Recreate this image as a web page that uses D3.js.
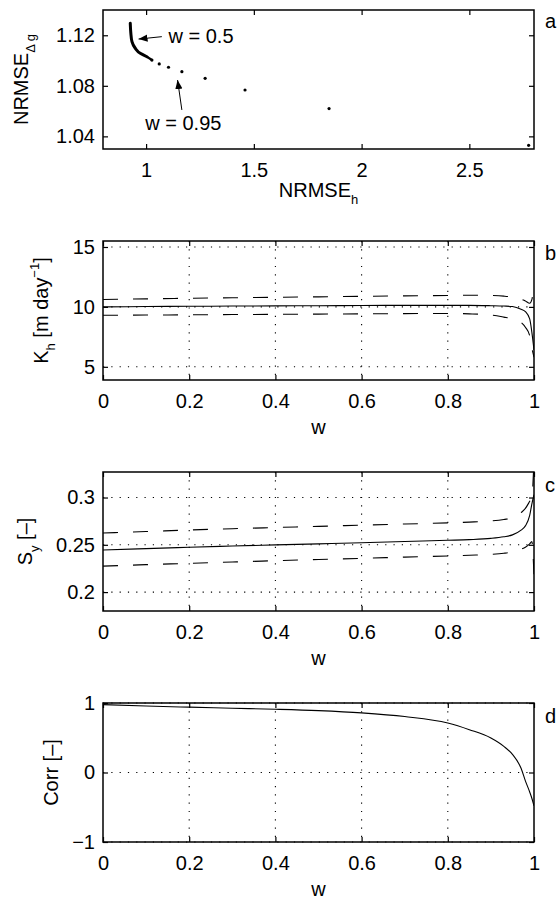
<!DOCTYPE html>
<html>
<head>
<meta charset="utf-8">
<script src="https://cdn.jsdelivr.net/npm/d3@7"></script>
<style>
  body { margin: 0; background: #fff; }
  svg text { font-family: "Liberation Sans", Arial, Helvetica, sans-serif; fill: #000; }
</style>
</head>
<body>
<div id="canvas"></div>
<script>
// ---- panel a : NRMSE_h vs NRMSE_dg
const frontX = [0.9265, 0.9290, 0.9344, 0.9497, 0.9728, 1.0039];
const frontY = [1.1295, 1.1220, 1.1149, 1.1097, 1.1057, 1.1030];
const dotsX = [1.027, 1.061, 1.104, 1.166, 1.274, 1.459, 1.849, 2.775];
const dotsY = [1.1004, 1.0973, 1.0947, 1.0912, 1.0859, 1.0767, 1.0620, 1.0329];
const aXTicks = [1, 1.5, 2, 2.5];
const aYTicks = [1.04, 1.08, 1.12];
const noteLabels = ["w = 0.5", "w = 0.95"];
const noteTip = [[0.965, 1.117], [1.146, 1.0846]];
const noteTail = [[1.073, 1.1189], [1.166, 1.0609]];
const noteText = [[1.104, 1.1136], [0.996, 1.045]];

// ---- panels b, c, d : against weight w
const w      = [0, 0.1, 0.2, 0.3, 0.4, 0.5, 0.6, 0.7, 0.8, 0.85, 0.9, 0.93, 0.95, 0.97, 0.98, 0.99, 0.995, 1.0];
const khMid  = [10.0, 10.03, 10.05, 10.07, 10.09, 10.1, 10.12, 10.13, 10.13, 10.13, 10.1, 10.07, 10.03, 9.8, 9.6, 9.0, 7.9, 6.4];
const khUp   = [10.62, 10.67, 10.72, 10.76, 10.8, 10.84, 10.88, 10.92, 10.95, 10.97, 10.95, 10.9, 10.82, 10.65, 10.5, 10.3, 10.6, 12.0];
const khLow  = [9.3, 9.32, 9.34, 9.36, 9.38, 9.4, 9.42, 9.44, 9.45, 9.42, 9.33, 9.15, 9.0, 8.7, 8.3, 7.6, 6.6, 5.8];
const syMid  = [0.2445, 0.246, 0.2474, 0.2487, 0.2499, 0.251, 0.2522, 0.2535, 0.2548, 0.2555, 0.2568, 0.2585, 0.2605, 0.2655, 0.27, 0.281, 0.293, 0.303];
const syUp   = [0.2625, 0.264, 0.2657, 0.267, 0.2683, 0.2695, 0.2708, 0.272, 0.2732, 0.274, 0.2752, 0.2768, 0.2785, 0.284, 0.2885, 0.296, 0.300, 0.34];
const syLow  = [0.2275, 0.229, 0.2304, 0.2318, 0.2332, 0.2345, 0.2357, 0.237, 0.2382, 0.239, 0.2398, 0.241, 0.2425, 0.2455, 0.2475, 0.251, 0.2535, 0.218];
const corr   = [0.976, 0.957, 0.94, 0.925, 0.91, 0.89, 0.858, 0.805, 0.712, 0.616, 0.496, 0.376, 0.26, 0.06, -0.12, -0.28, -0.37, -0.48];
const wTicks = [0, 0.2, 0.4, 0.6, 0.8, 1];
const khTicks = [5, 10, 15];
const syTicks = [0.2, 0.25, 0.3];
const corrTicks = [-1, 0, 1];

const W = 557, H = 901;
const X0 = 103, X1 = 534, PH = 139;
const FS = 20;

const svg = d3.select("#canvas").append("svg")
  .attr("width", W).attr("height", H);

const defs = svg.append("defs");
defs.append("marker")
  .attr("id", "head")
  .attr("viewBox", "0 0 10 10")
  .attr("refX", 10).attr("refY", 5)
  .attr("markerWidth", 9).attr("markerHeight", 9)
  .attr("markerUnits", "userSpaceOnUse")
  .attr("orient", "auto")
  .append("path").attr("d", "M0,1 L10,5 L0,9 Z").attr("fill", "#000");

function panel(id, top, xDom, yDom, xTicks, yTicks, xFmt, yFmt, grid) {
  const x = d3.scaleLinear().domain(xDom).range([X0, X1]);
  const y = d3.scaleLinear().domain(yDom).range([top + PH, top]);
  const g = svg.append("g");

  defs.append("clipPath").attr("id", "clip" + id)
    .append("rect").attr("x", X0).attr("y", top).attr("width", X1 - X0).attr("height", PH);

  if (grid) {
    g.selectAll(".gx").data(xTicks.filter(t => t > xDom[0] && t < xDom[1])).enter()
      .append("line")
      .attr("x1", d => x(d)).attr("x2", d => x(d))
      .attr("y1", top).attr("y2", top + PH)
      .attr("stroke", "#000").attr("stroke-width", 1.1)
      .attr("stroke-dasharray", "1.2,7.1");
    g.selectAll(".gy").data(yTicks).enter()
      .append("line")
      .attr("x1", X0).attr("x2", X1)
      .attr("y1", d => y(d)).attr("y2", d => y(d))
      .attr("stroke", "#000").attr("stroke-width", 1.1)
      .attr("stroke-dasharray", "1.2,7.1");
  }

  const ax = (gen, tx, ty, fmt, pad) => {
    const a = g.append("g").attr("transform", `translate(${tx},${ty})`)
      .call(gen.tickSizeInner(-5).tickSizeOuter(0).tickPadding(pad).tickFormat(fmt));
    a.select(".domain").remove();
    a.selectAll("line").attr("stroke", "#000").attr("stroke-width", 1.2);
    a.selectAll("text").attr("font-size", FS).attr("font-family", null);
    return a;
  };
  ax(d3.axisBottom(x).tickValues(xTicks), 0, top + PH, xFmt, 13.8);
  ax(d3.axisTop(x).tickValues(xTicks), 0, top, () => "", 0);
  ax(d3.axisLeft(y).tickValues(yTicks), X0, 0, yFmt, 8);
  ax(d3.axisRight(y).tickValues(yTicks), X1, 0, () => "", 0);

  g.append("rect").attr("x", X0).attr("y", top).attr("width", X1 - X0).attr("height", PH)
    .attr("fill", "none").attr("stroke", "#000").attr("stroke-width", 1.5);

  return { x, y, g, clip: `url(#clip${id})` };
}

function letter(t, yb) {
  svg.append("text").attr("x", 545).attr("y", yb).attr("font-size", FS).text(t);
}

function xLabel(top, parts) {
  const t = svg.append("text").attr("x", (X0 + X1) / 2).attr("y", top + PH + 54)
    .attr("text-anchor", "middle").attr("font-size", FS);
  parts(t);
}

function yLabel(xb, top, parts) {
  const t = svg.append("text")
    .attr("transform", `translate(${xb},${top + PH / 2}) rotate(-90)`)
    .attr("text-anchor", "middle").attr("font-size", FS);
  parts(t);
}

// ---------- panel a ----------
{
  const p = panel("a", 10, [0.8, 2.8], [1.03, 1.14], aXTicks, aYTicks, d3.format("~g"), d3.format(".2f"), false);
  const pts = frontX.map((v, i) => [v, frontY[i]]);
  p.g.append("path")
    .attr("d", d3.line().x(d => p.x(d[0])).y(d => p.y(d[1])).curve(d3.curveMonotoneY)(pts))
    .attr("fill", "none").attr("stroke", "#000").attr("stroke-width", 3)
    .attr("stroke-linecap", "round").attr("stroke-linejoin", "round");
  // thinner tail of the front
  p.g.append("path")
    .attr("d", d3.line().x(d => p.x(d[0])).y(d => p.y(d[1]))([pts[pts.length - 1], [dotsX[0], dotsY[0]]]))
    .attr("fill", "none").attr("stroke", "#000").attr("stroke-width", 2.2);
  p.g.selectAll(".dot").data(dotsX.map((v, i) => [v, dotsY[i]])).enter()
    .append("circle")
    .attr("cx", d => p.x(d[0])).attr("cy", d => p.y(d[1]))
    .attr("r", 1.6).attr("fill", "#000")
    .attr("clip-path", p.clip);

  noteLabels.forEach((lab, i) => {
    p.g.append("line")
      .attr("x1", p.x(noteTail[i][0])).attr("y1", p.y(noteTail[i][1]))
      .attr("x2", p.x(noteTip[i][0])).attr("y2", p.y(noteTip[i][1]))
      .attr("stroke", "#000").attr("stroke-width", 1)
      .attr("marker-end", "url(#head)");
    p.g.append("text")
      .attr("x", p.x(noteText[i][0])).attr("y", p.y(noteText[i][1]))
      .attr("font-size", FS).text(lab);
  });

  letter("a", 28);
  const xl = svg.append("text").attr("x", (X0 + X1) / 2).attr("y", 197)
    .attr("text-anchor", "middle").attr("font-size", FS);
  xl.append("tspan").text("NRMSE");
  xl.append("tspan").attr("font-size", 13).attr("dy", 7).text("h");
  yLabel(28, 10, t => {
    t.append("tspan").text("NRMSE");
    t.append("tspan").attr("font-size", 13).attr("dy", 7).text("\u0394 g");
  });
}

// ---------- panels b, c, d ----------
function series(p, vals, dashed) {
  p.g.append("path")
    .attr("d", d3.line().x((d, i) => p.x(w[i])).y(d => p.y(d)).curve(d3.curveMonotoneX)(vals))
    .attr("fill", "none").attr("stroke", "#000").attr("stroke-width", 1.1)
    .attr("stroke-dasharray", dashed ? "15,15" : null)
    .attr("clip-path", p.clip);
}

{
  const top = 241;
  const p = panel("b", top, [0, 1], [3.9, 15.5], wTicks, khTicks, d3.format("~g"), d3.format("~g"), true);
  series(p, khMid, false);
  series(p, khUp, true);
  series(p, khLow, true);
  letter("b", 260);
  xLabel(top, t => t.text("w"));
  yLabel(48, top, t => {
    t.append("tspan").text("K");
    t.append("tspan").attr("font-size", 13).attr("dy", 7).text("h");
    t.append("tspan").attr("dy", -7).text(" [m day");
    t.append("tspan").attr("font-size", 13).attr("dy", -9).text("\u22121");
    t.append("tspan").attr("dy", 9).text("]");
  });
}

{
  const top = 472;
  const p = panel("c", top, [0, 1], [0.18, 0.327], wTicks, syTicks, d3.format("~g"), d3.format("~g"), true);
  series(p, syMid, false);
  series(p, syUp, true);
  series(p, syLow, true);
  letter("c", 492);
  xLabel(top, t => t.text("w"));
  yLabel(32, top, t => {
    t.append("tspan").text("S");
    t.append("tspan").attr("font-size", 13).attr("dy", 7).text("y");
    t.append("tspan").attr("dy", -7).text(" [\u2013]");
  });
}

{
  const top = 703;
  const p = panel("d", top, [0, 1], [-1, 1], wTicks, corrTicks, d3.format("~g"), d => d < 0 ? "\u2212" + Math.abs(d) : d, true);
  series(p, corr, false);
  letter("d", 723);
  xLabel(top, t => t.text("w"));
  yLabel(58, top, t => t.text("Corr [\u2013]"));
}
</script>
</body>
</html>
